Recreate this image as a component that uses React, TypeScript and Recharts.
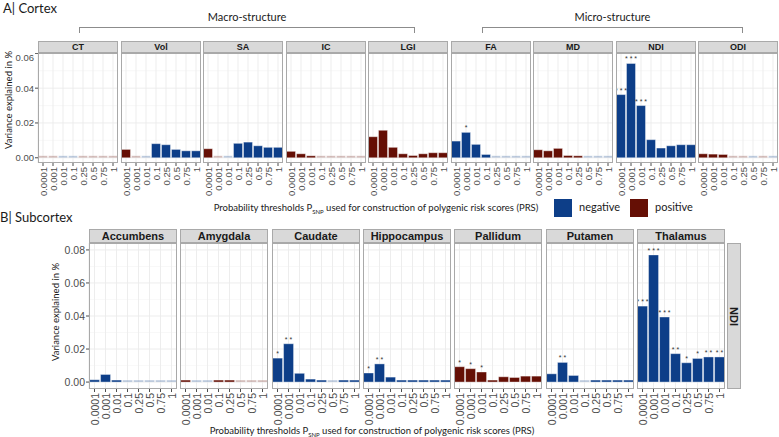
import React from "react";
import {
  Bar,
  BarChart,
  CartesianGrid,
  Cell,
  LabelList,
  XAxis,
  YAxis
} from "recharts";

// p-value thresholds used for the PRS
const thresholds = ["0.0001", "0.001", "0.01", "0.1", "0.25", "0.5", "0.75", "1"];

// direction string: N = negative, P = positive, lowercase = faded (weak) bar
const ct = [0.0002, 0.0002, 0.0002, 0.0002, 0.0002, 0.0002, 0.0003, 0.0003];
const ctDir = "ppnnpppp";
const vol = [0.0048, 0.0008, 0.0002, 0.0081, 0.0075, 0.0048, 0.004, 0.004];
const volDir = "PpnNNNNN";
const sa = [0.0052, 0.0008, 0.0004, 0.0083, 0.009, 0.0069, 0.006, 0.006];
const saDir = "PpnNNNNN";
const ic = [0.0037, 0.0023, 0.001, 0.0002, 0.0001, 0.0001, 0.0005, 0.0005];
const icDir = "PPPppppp";
const lgi = [0.0121, 0.0158, 0.006, 0.0023, 0.0013, 0.0023, 0.0029, 0.0029];
const lgiDir = "PPPPPPPP";
const fa = [0.0096, 0.0146, 0.0077, 0.0019, 0.0001, 0.0003, 0.0001, 0.0001];
const faDir = "NNNNnnnn";
const faStars = ["", "*"];
const md = [0.0046, 0.004, 0.0054, 0.0013, 0.0004, 0.0003, 0.0003, 0.0003];
const mdDir = "PPPPPnnn";
const ndi = [0.0363, 0.0542, 0.03, 0.0104, 0.0056, 0.0069, 0.0075, 0.0075];
const ndiDir = "NNNNNNNN";
const ndiStars = ["***", "***", "***"];
const odi = [0.0023, 0.0021, 0.0019, 0.001, 0.0001, 0.0003, 0.0003, 0.0003];
const odiDir = "PPPppnpn";

const accumbens = [0.0014, 0.0046, 0.0012, 0.0003, 0.0003, 0.0001, 0.0001, 0.0001];
const accumbensDir = "NNNnnnnn";
const amygdala = [0.0004, 0.0003, 0.0004, 0.0008, 0.001, 0.0003, 0.0001, 0.0001];
const amygdalaDir = "PnnPPppp";
const caudate = [0.0145, 0.0232, 0.0053, 0.0018, 0.0008, 0.0004, 0.0008, 0.0008];
const caudateDir = "NNNNNnNN";
const caudateStars = ["*", "**"];
const hippocampus = [0.0055, 0.011, 0.003, 0.0003, 0.0003, 0.0003, 0.0003, 0.0003];
const hippocampusDir = "NNNNNNNN";
const hippocampusStars = ["*", "**"];
const pallidum = [0.0093, 0.0081, 0.0061, 0.0006, 0.0032, 0.0028, 0.0036, 0.0036];
const pallidumDir = "PPPPPPPP";
const pallidumStars = ["*", "*", "*"];
const putamen = [0.005, 0.0119, 0.004, 0.0006, 0.0003, 0.0003, 0.0003, 0.0003];
const putamenDir = "NNNnNNNN";
const putamenStars = ["", "**"];
const thalamus = [0.046, 0.077, 0.0394, 0.0172, 0.0117, 0.0143, 0.0152, 0.0152];
const thalamusDir = "NNNNNNNN";
const thalamusStars = ["***", "***", "***", "**", "*", "*", "**", "**"];

const cortexPanels = [
  { name: "CT", values: ct, dir: ctDir },
  { name: "Vol", values: vol, dir: volDir },
  { name: "SA", values: sa, dir: saDir },
  { name: "IC", values: ic, dir: icDir },
  { name: "LGI", values: lgi, dir: lgiDir },
  { name: "FA", values: fa, dir: faDir, stars: faStars },
  { name: "MD", values: md, dir: mdDir },
  { name: "NDI", values: ndi, dir: ndiDir, stars: ndiStars },
  { name: "ODI", values: odi, dir: odiDir }
];

const subcortexPanels = [
  { name: "Accumbens", values: accumbens, dir: accumbensDir },
  { name: "Amygdala", values: amygdala, dir: amygdalaDir },
  { name: "Caudate", values: caudate, dir: caudateDir, stars: caudateStars },
  { name: "Hippocampus", values: hippocampus, dir: hippocampusDir, stars: hippocampusStars },
  { name: "Pallidum", values: pallidum, dir: pallidumDir, stars: pallidumStars },
  { name: "Putamen", values: putamen, dir: putamenDir, stars: putamenStars },
  { name: "Thalamus", values: thalamus, dir: thalamusDir, stars: thalamusStars }
];

const BLUE = "#0d3e88";
const RED = "#650f05";
const BORDER = "#a9a9a9";
const STRIP = "#d9d9d9";
const AXIS_FONT = "'Liberation Sans', Arial, sans-serif";
const TITLE_FONT = "Lato, 'Open Sans', sans-serif";

type Geo = {
  stripTop: number;
  stripH: number;
  stripFont: number;
  plotTop: number;
  plotH: number;
  axisH: number;
  left0: number;
  step: number;
  w: number;
  yW: number;
  domain: [number, number];
  major: number[];
  minor: number[];
  font: number;
};

const topGeo: Geo = {
  stripTop: 41, stripH: 12, stripFont: 9, plotTop: 53, plotH: 110, axisH: 40,
  left0: 38, step: 82.55, w: 80, yW: 36,
  domain: [-0.003, 0.0602], major: [0, 0.02, 0.04, 0.06], minor: [0.01, 0.03, 0.05],
  font: 9.5
};

const bottomGeo: Geo = {
  stripTop: 229, stripH: 14, stripFont: 11, plotTop: 243, plotH: 146, axisH: 40,
  left0: 89, step: 91.3, w: 88, yW: 40,
  domain: [-0.0042, 0.0842], major: [0, 0.02, 0.04, 0.06, 0.08], minor: [0.01, 0.03, 0.05, 0.07],
  font: 10.5
};

function Stars(props: any) {
  const { x, y, width, value } = props;
  if (!value) return null;
  return (
    <text x={x + width / 2} y={y - 2} textAnchor="middle" fontSize={7} fill="#333" fontFamily={AXIS_FONT}>
      {String(value).split("").join(" ")}
    </text>
  );
}

function Panel({ p, i, g }: { p: any; i: number; g: Geo }) {
  const showY = i === 0;
  const left = Math.round(g.left0 + i * g.step);
  const rows = thresholds.map((t, k) => ({ t, v: p.values[k], d: p.dir[k], sig: p.stars?.[k] ?? "" }));
  const extra = showY ? g.yW : 0;

  return (
    <>
      <div
        style={{
          position: "absolute", left, top: g.stripTop, width: g.w, height: g.stripH,
          background: STRIP, border: `1px solid ${BORDER}`, boxSizing: "border-box",
          fontFamily: AXIS_FONT, fontWeight: 700, fontSize: g.stripFont, color: "#1a1a1a",
          display: "flex", alignItems: "center", justifyContent: "center"
        }}
      >
        {p.name}
      </div>
      <div style={{ position: "absolute", left: left - extra, top: g.plotTop }}>
        <BarChart
          width={g.w + extra}
          height={g.plotH + g.axisH}
          data={rows}
          margin={{ top: 0, right: 0, bottom: 0, left: 0 }}
          barCategoryGap="5%"
        >
          <CartesianGrid horizontalValues={g.minor} vertical={false} stroke="#f4f4f4" strokeWidth={0.6} />
          <CartesianGrid horizontalValues={g.major} stroke="#ebebeb" strokeWidth={0.9} />
          <XAxis
            dataKey="t"
            interval={0}
            height={g.axisH}
            tickSize={3}
            tickMargin={1}
            axisLine={false}
            tickLine={{ stroke: "#4d4d4d" }}
            tick={(tp: any) => (
              <text
                x={tp.x}
                y={tp.y}
                transform={`rotate(-90 ${tp.x} ${tp.y})`}
                textAnchor="end"
                dominantBaseline="central"
                fontSize={g.font}
                fill="#4d4d4d"
                fontFamily={AXIS_FONT}
              >
                {tp.payload.value}
              </text>
            )}
          />
          <YAxis
            hide={!showY}
            width={g.yW}
            type="number"
            domain={g.domain}
            allowDataOverflow
            ticks={g.major}
            tickFormatter={(v: number) => v.toFixed(2)}
            tickSize={3}
            tickMargin={1}
            axisLine={false}
            tickLine={{ stroke: "#4d4d4d" }}
            tick={{ fontSize: g.font, fill: "#4d4d4d", fontFamily: AXIS_FONT }}
          />
          <Bar dataKey="v" isAnimationActive={false} stroke="#ffffff" strokeWidth={0.4} minPointSize={2}>
            {rows.map((r, k) => (
              <Cell
                key={k}
                fill={r.d.toUpperCase() === "N" ? BLUE : RED}
                fillOpacity={r.d === r.d.toUpperCase() ? 1 : 0.3}
              />
            ))}
            <LabelList dataKey="sig" content={Stars} />
          </Bar>
        </BarChart>
      </div>
      <div
        style={{
          position: "absolute", left, top: g.plotTop, width: g.w, height: g.plotH,
          border: `1px solid ${BORDER}`, boxSizing: "border-box", pointerEvents: "none"
        }}
      />
    </>
  );
}

function XTitle({ top, center }: { top: number; center: number }) {
  return (
    <div
      style={{
        position: "absolute", top, left: center - 200, width: 400, textAlign: "center",
        fontFamily: TITLE_FONT, fontSize: 9.5, color: "#1a1a1a", whiteSpace: "nowrap"
      }}
    >
      Probability thresholds P<sub style={{ fontSize: 6 }}>SNP</sub> used for construction of polygenic risk scores (PRS)
    </div>
  );
}

function YTitle({ x, y }: { x: number; y: number }) {
  return (
    <div
      style={{
        position: "absolute", left: x - 80, top: y - 7, width: 160, height: 14,
        textAlign: "center", transform: "rotate(-90deg)", fontFamily: TITLE_FONT,
        fontSize: 9.5, color: "#1a1a1a", whiteSpace: "nowrap", lineHeight: "14px"
      }}
    >
      Variance explained in %
    </div>
  );
}

function Bracket({ x1, x2, label }: { x1: number; x2: number; label: string }) {
  return (
    <>
      <div
        style={{
          position: "absolute", left: x1, top: 27, width: x2 - x1, height: 6,
          borderTop: "1px solid #8c8c8c", borderLeft: "1px solid #8c8c8c",
          borderRight: "1px solid #8c8c8c", boxSizing: "border-box"
        }}
      />
      <div
        style={{
          position: "absolute", left: (x1 + x2) / 2 - 100, top: 10, width: 200,
          textAlign: "center", fontFamily: TITLE_FONT, fontSize: 11, color: "#1a1a1a"
        }}
      >
        {label}
      </div>
    </>
  );
}

function LegendKey({ x, color, label }: { x: number; color: string; label: string }) {
  return (
    <>
      <div style={{ position: "absolute", left: x, top: 199, width: 18, height: 18, background: color }} />
      <div
        style={{
          position: "absolute", left: x + 25, top: 200, fontFamily: TITLE_FONT,
          fontSize: 11, color: "#1a1a1a", lineHeight: "14px"
        }}
      >
        {label}
      </div>
    </>
  );
}

export default function App() {
  return (
    <div style={{ position: "absolute", left: 0, top: 0, width: 779, height: 437, background: "#fff", overflow: "hidden" }}>
      <div style={{ position: "absolute", left: 3, top: 0, fontFamily: TITLE_FONT, fontSize: 13, color: "#1a1a1a" }}>
        A| Cortex
      </div>
      <Bracket x1={79} x2={415} label="Macro-structure" />
      <Bracket x1={482} x2={743} label="Micro-structure" />
      <YTitle x={9} y={100} />
      {cortexPanels.map((p, i) => (
        <Panel key={p.name} p={p} i={i} g={topGeo} />
      ))}
      <XTitle top={202} center={376} />
      <LegendKey x={554} color={BLUE} label="negative" />
      <LegendKey x={630} color={RED} label="positive" />

      <div style={{ position: "absolute", left: 0, top: 209, fontFamily: TITLE_FONT, fontSize: 13, color: "#1a1a1a" }}>
        B| Subcortex
      </div>
      <YTitle x={56} y={312} />
      {subcortexPanels.map((p, i) => (
        <Panel key={p.name} p={p} i={i} g={bottomGeo} />
      ))}
      <div
        style={{
          position: "absolute", left: 727, top: 243, width: 14, height: 146,
          background: STRIP, border: `1px solid ${BORDER}`, boxSizing: "border-box",
          display: "flex", alignItems: "center", justifyContent: "center"
        }}
      >
        <span style={{ writingMode: "vertical-rl", fontFamily: AXIS_FONT, fontWeight: 700, fontSize: 11, color: "#1a1a1a" }}>
          NDI
        </span>
      </div>
      <XTitle top={425} center={372} />
    </div>
  );
}
